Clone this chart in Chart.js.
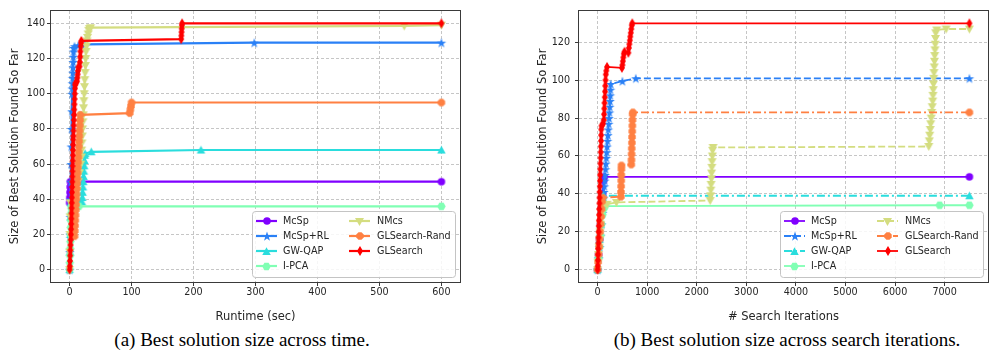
<!DOCTYPE html>
<html><head><meta charset="utf-8">
<script src="https://cdn.jsdelivr.net/npm/chart.js@4.4.0/dist/chart.umd.min.js"></script>
<style>
html,body{margin:0;padding:0;background:#fff;}
#wrap{position:relative;width:992px;height:352px;overflow:hidden;background:#fff;}
#cA{position:absolute;left:0;top:0;}
#cB{position:absolute;left:520px;top:0;}
.cap{position:absolute;top:329px;font-family:'Liberation Serif','Times New Roman',serif;font-size:19px;line-height:22px;color:#000;white-space:nowrap;transform:translateX(-50%);}
</style></head><body>
<div id="wrap">
<canvas id="cA" width="470" height="326"></canvas>
<canvas id="cB" width="472" height="326"></canvas>
<div class="cap" style="left:242px">(a) Best solution size across time.</div>
<div class="cap" style="left:787px">(b) Best solution size across search iterations.</div>
</div>
<script>
// ---------- data ----------
const seriesNames = ['McSp','McSp+RL','GW-QAP','I-PCA','NMcs','GLSearch-Rand','GLSearch'];
const xTicksA = [0,100,200,300,400,500,600];
const yTicksA = [0,20,40,60,80,100,120,140];
const xTicksB = [0,1000,2000,3000,4000,5000,6000,7000];
const yTicksB = [0,20,40,60,80,100,120];
const xTitleA = 'Runtime (sec)';
const xTitleB = '# Search Iterations';
const yTitle = 'Size of Best Solution Found So Far';

// (a) [runtime sec, best size]
const timeMcSp = [[0,38],[0.3,41],[0.6,44],[0.9,47],[1.2,50],[15,50],[600,50]];
const timeMcSpRL = [[0,0],[0.4,10],[0.8,20],[1.2,30],[1.6,40],[2,50],[2.4,60],[2.8,70],[3.2,80],[3.6,90],[4,100],[4.3,103],[4.6,106],[4.9,109],[5.2,112],[5.5,115],[5.8,118],[6.1,121],[6.4,124],[6.7,126],[8,127],[14,127.5],[25,128],[298,129],[600,129]];
const timeGWQAP = [[0,0],[0.5,10],[1,20],[1.5,30],[2,38],[20,38.5],[20.5,41],[21,44],[21.5,47],[22,50],[22.5,53],[23,56],[23.5,59],[24,62],[24.5,65],[25,66],[35,67],[212,68],[600,68]];
const timeIPCA = [[0,0],[0.3,4],[0.6,8],[0.9,12],[1.2,16],[1.5,20],[1.8,24],[2.1,28],[2.4,32],[2.7,35],[3,36],[15,36],[600,36]];
const timeNMcs = [[0,0],[0.3,10],[0.6,20],[0.9,30],[1.2,38],[10,40],[12,45],[14,50],[16,55],[18,60],[19,64],[19.5,68],[20,72],[20.5,76],[21,80],[21.5,84],[22,88],[22.5,92],[23,96],[23.5,100],[24,104],[24.5,108],[25,112],[25.5,116],[26,120],[26.5,124],[27,127],[28,130],[29,132],[30,134],[31,136],[32,137],[34,137.5],[540,138.5],[600,139]];
const timeGLRand = [[8,19],[8.4,22],[8.8,25],[9.2,28],[9.6,31],[10,34],[10.4,37],[10.8,40],[11.2,43],[11.6,46],[12,49],[12.4,52],[12.8,55],[13.2,58],[13.6,61],[14,64],[14.4,67],[14.8,70],[15.2,73],[15.6,76],[16,79],[16.4,82],[16.8,85],[17.2,88],[97,89],[98,91],[99,93],[100,95],[600,95]];
const timeGLSearch = [[0,0],[0.3,2],[0.6,5],[0.9,8],[1.2,11],[1.5,14],[1.8,17],[2.1,20],[2.4,23],[2.6,26],[2.8,29],[3,32],[3.2,35],[3.4,38],[3.6,41],[3.8,44],[4,47],[4.2,50],[4.4,53],[4.6,56],[4.8,59],[5,62],[5.2,65],[5.4,68],[5.6,71],[5.8,74],[6,76],[6.3,79],[6.6,82],[6.9,85],[7.2,88],[7.5,91],[7.8,94],[8.1,97],[8.4,100],[8.7,103],[9,105],[9.5,106],[12,107],[12.5,109],[13,111],[13.5,113],[14,115],[16,115.5],[16.5,118],[17,121],[17.5,124],[18,127],[18.5,129],[19,130],[180,131],[180.3,133],[180.6,135],[180.9,137],[181.2,139],[181.5,140],[600,140]];

// (b) [search iteration, best size]
const iterMcSp = [[0,0],[20,8],[40,16],[60,24],[80,32],[100,40],[120,47],[130,49],[7500,49]];
const iterMcSpRL = [[0,0],[20,6],[40,12],[60,18],[80,24],[100,30],[110,34],[120,38],[128,41],[136,44],[144,47],[152,50],[160,53],[168,56],[176,59],[184,62],[192,65],[200,68],[208,71],[216,74],[224,77],[232,80],[240,83],[246,86],[252,89],[256,92],[260,95],[265,98],[500,99.5],[770,101],[7500,101]];
const iterGWQAP = [[0,0],[20,8],[40,16],[60,24],[80,32],[100,38],[110,39],[7500,39]];
const iterIPCA = [[0,0],[20,6],[40,12],[60,18],[80,24],[100,29],[120,32],[150,33.5],[6900,34],[7500,34]];
const iterNMcs = [[0,0],[10,4],[20,8],[30,12],[40,16],[50,20],[60,24],[70,27],[80,30],[90,33],[190,34.5],[380,35.5],[2270,36.5],[2280,39],[2285,42],[2290,45],[2295,48],[2300,51],[2305,54],[2310,57],[2315,60],[2320,63],[2330,64.5],[6680,65],[6690,68],[6700,71],[6710,74],[6720,77],[6730,80],[6740,83],[6750,86],[6760,89],[6765,92],[6770,95],[6775,98],[6780,101],[6785,104],[6790,107],[6795,110],[6800,113],[6805,116],[6810,119],[6815,122],[6820,125],[6840,126.5],[7030,127],[7500,127]];
const iterGLRand = [[0,0],[10,4],[20,8],[30,12],[40,16],[50,20],[60,24],[70,28],[80,32],[90,36],[100,38],[470,38.5],[472,41],[474,44],[476,47],[478,50],[480,53],[482,55],[680,55.5],[683,58],[686,61],[689,64],[692,67],[695,70],[698,73],[701,76],[704,79],[707,82],[712,83],[7500,83]];
const iterGLSearch = [[0,0],[3,2],[6,5],[9,8],[12,11],[15,14],[18,17],[21,20],[24,23],[27,26],[30,29],[33,32],[36,35],[39,38],[42,41],[45,44],[48,47],[51,50],[54,53],[57,56],[60,59],[63,62],[66,65],[69,68],[72,71],[75,74],[80,76],[110,77],[125,79],[130,82],[135,85],[140,88],[145,91],[150,94],[155,97],[160,100],[165,103],[175,105],[190,107],[490,106.5],[500,108],[510,110],[520,112],[530,114],[545,115],[620,114.5],[630,117],[640,119],[650,121],[660,123],[670,125],[680,127],[690,129],[700,130],[7500,130]];

// ---------- styles ----------
const seriesColors = ['#8000ff','#2a80f6','#2adddd','#80ffb4','#d4dd80','#ff8042','#ff0000'];
const markerShapes = ['circle','star','tri','hex','trid','oct','dia'];
const dashesA = [[],[],[],[],[],[],[]];
const dashesB = [[],[7,3],[8,3,2,3],[],[7,3],[8,3,2,3],[]];
const FONT = "'DejaVu Sans'";
const TXT = '#262626';

function makeMarker(shape, color) {
  const sz = {circle:[7.5,7.5], star:[10,10], tri:[8.5,8.5], hex:[8.5,8.5], trid:[9,9], oct:[8,8], dia:[6,10]}[shape];
  const w = sz[0], h = sz[1];
  const c = document.createElement('canvas');
  c.width = Math.ceil(w) + 2; c.height = Math.ceil(h) + 2;
  const g = c.getContext('2d');
  g.fillStyle = color;
  const cx = c.width / 2, cy = c.height / 2, rx = w / 2, ry = h / 2;
  g.beginPath();
  const poly = (n, a0, r) => { for (let k = 0; k < n; k++) { const a = a0 + k * 2 * Math.PI / n; const x = cx + r * Math.cos(a), y = cy + r * Math.sin(a); k ? g.lineTo(x, y) : g.moveTo(x, y); } };
  if (shape === 'circle') g.arc(cx, cy, rx, 0, 2 * Math.PI);
  else if (shape === 'star') { for (let k = 0; k < 10; k++) { const r = k % 2 ? rx * 0.4 : rx; const a = -Math.PI / 2 + k * Math.PI / 5; const x = cx + r * Math.cos(a), y = cy + 0.6 + r * Math.sin(a); k ? g.lineTo(x, y) : g.moveTo(x, y); } }
  else if (shape === 'tri') { g.moveTo(cx, cy - ry); g.lineTo(cx + rx, cy + ry * 0.8); g.lineTo(cx - rx, cy + ry * 0.8); }
  else if (shape === 'trid') { g.moveTo(cx, cy + ry); g.lineTo(cx + rx, cy - ry * 0.8); g.lineTo(cx - rx, cy - ry * 0.8); }
  else if (shape === 'hex') poly(6, 0, rx);
  else if (shape === 'oct') poly(8, Math.PI / 8, rx);
  else if (shape === 'dia') { g.moveTo(cx, cy - ry); g.lineTo(cx + rx, cy); g.lineTo(cx, cy + ry); g.lineTo(cx - rx, cy); }
  g.closePath(); g.fill();
  return c;
}
const markers = markerShapes.map((s, i) => makeMarker(s, seriesColors[i]));

const framePlugin = {
  id: 'frame',
  afterDatasetsDraw(chart) {
    const a = chart.chartArea, ctx = chart.ctx;
    ctx.save();
    ctx.strokeStyle = '#3a3a3a'; ctx.lineWidth = 1; ctx.setLineDash([]);
    ctx.strokeRect(Math.round(a.left) - 0.5, Math.round(a.top) - 0.5, Math.round(a.right - a.left) + 1, Math.round(a.bottom - a.top) + 1);
    ctx.restore();
  }
};

const legendPlugin = {
  id: 'mplLegend',
  afterDraw(chart) {
    const ctx = chart.ctx, a = chart.chartArea;
    const W = 203, H = 66;
    const x0 = Math.round(a.right - 5 - W) + 0.5, y0 = Math.round(a.bottom - 5 - H) + 0.5;
    ctx.save();
    ctx.beginPath();
    ctx.roundRect(x0, y0, W, H, 3);
    ctx.fillStyle = 'rgba(255,255,255,0.85)';
    ctx.fill();
    ctx.strokeStyle = '#c4c4c4'; ctx.lineWidth = 1; ctx.stroke();
    ctx.font = '9.6px ' + FONT;
    ctx.textBaseline = 'middle';
    ctx.textAlign = 'left';
    chart.data.datasets.forEach((ds, i) => {
      const col = i < 4 ? 0 : 1, row = i < 4 ? i : i - 4;
      const lx = x0 + (col ? 96.5 : 3.5), ly = Math.round(y0 + 9 + row * 15.3);
      ctx.strokeStyle = ds.borderColor; ctx.lineWidth = ds.borderWidth;
      ctx.setLineDash(ds.borderDash || []);
      ctx.beginPath(); ctx.moveTo(lx, ly); ctx.lineTo(lx + 21, ly); ctx.stroke();
      ctx.setLineDash([]);
      const m = ds.pointStyle;
      ctx.drawImage(m, Math.round(lx + 10.5 - m.width / 2), Math.round(ly - m.height / 2));
      ctx.fillStyle = TXT;
      ctx.fillText(ds.label, x0 + (col ? 124.5 : 30.5), ly + 0.5);
    });
    ctx.restore();
  }
};

function makeChart(id, series, dashes, lw, xTicks, yTicks, xr, yr, xTitle, yW, yTitlePad, yTickPad, padR) {
  const datasets = series.map((pts, i) => ({
    label: seriesNames[i],
    data: pts.map(p => ({x: p[0], y: p[1]})),
    borderColor: seriesColors[i],
    backgroundColor: seriesColors[i],
    borderWidth: lw,
    borderDash: dashes[i],
    pointStyle: markers[i],
    pointRadius: 3, pointHoverRadius: 3, pointBorderWidth: 0,
    tension: 0, fill: false,
    order: seriesNames.length - 1 - i
  }));
  const grid = { color: 'rgba(170,170,170,0.85)', lineWidth: 0.8, drawTicks: true, tickLength: 4, tickColor: '#3a3a3a', tickWidth: 1, tickBorderDash: [] };
  return new Chart(document.getElementById(id), {
    type: 'line',
    data: { datasets },
    plugins: [framePlugin, legendPlugin],
    options: {
      responsive: false, animation: false, devicePixelRatio: 1,
      layout: { padding: { top: 11, right: padR, left: 0, bottom: 0 } },
      plugins: { legend: { display: false }, tooltip: { enabled: false } },
      scales: {
        x: {
          type: 'linear', min: xr[0], max: xr[1],
          afterBuildTicks: ax => { ax.ticks = xTicks.map(v => ({value: v})); },
          afterFit: ax => { ax.height = 44; },
          ticks: { callback: v => String(v), font: { family: FONT, size: 9.6 }, color: TXT, padding: 1, maxRotation: 0, autoSkip: false },
          grid: grid,
          border: { display: false, dash: [3, 2] },
          title: { display: true, text: xTitle, font: { family: FONT, size: 11.5 }, color: TXT, padding: { top: 0, bottom: 2 } }
        },
        y: {
          type: 'linear', min: yr[0], max: yr[1],
          afterBuildTicks: ax => { ax.ticks = yTicks.map(v => ({value: v})); },
          afterFit: ax => { ax.width = yW; },
          ticks: { callback: v => String(v), font: { family: FONT, size: 9.6 }, color: TXT, padding: yTickPad, autoSkip: false },
          grid: grid,
          border: { display: false, dash: [3, 2] },
          title: { display: true, text: yTitle, font: { family: FONT, size: 11.5 }, color: TXT, padding: { top: yTitlePad, bottom: 0 } }
        }
      }
    }
  });
}

makeChart('cA', [timeMcSp, timeMcSpRL, timeGWQAP, timeIPCA, timeNMcs, timeGLRand, timeGLSearch], dashesA, 2.2,
  xTicksA, yTicksA, [-30, 630], [-7, 147], xTitleA, 51, 8, 2, 10);
makeChart('cB', [iterMcSp, iterMcSpRL, iterGWQAP, iterIPCA, iterNMcs, iterGLRand, iterGLSearch], dashesB, 1.8,
  xTicksB, yTicksB, [-375, 7875], [-6.5, 136.5], xTitleB, 59, 16, 5, 4);
</script>
</body></html>
